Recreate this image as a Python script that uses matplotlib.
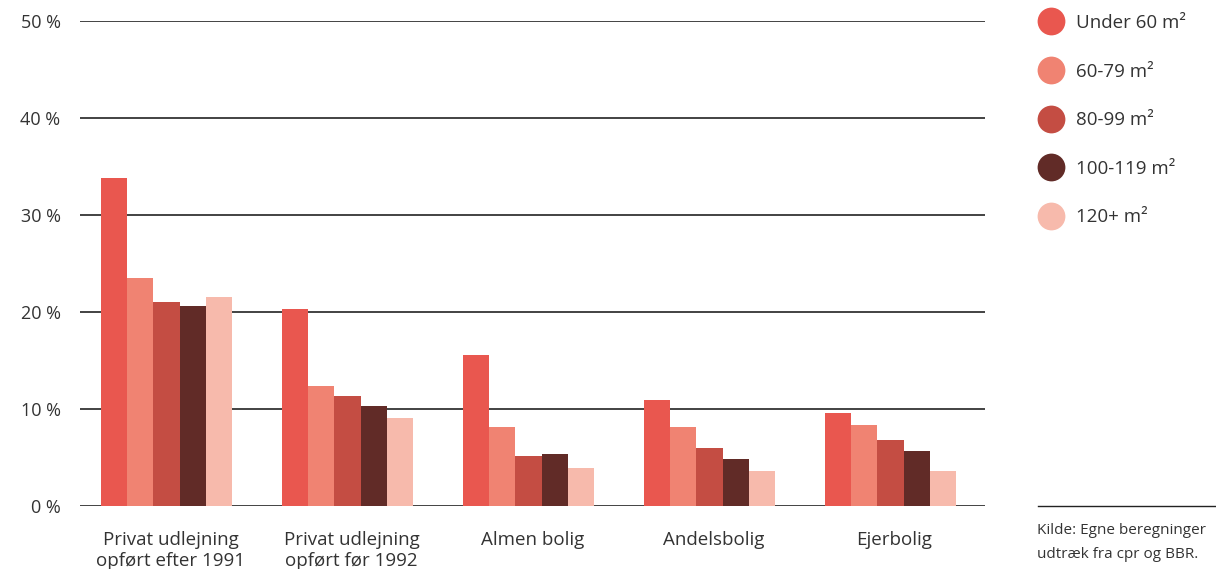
import matplotlib.pyplot as plt
import numpy as np
from matplotlib.lines import Line2D

plt.rcParams['font.family'] = ['Open Sans', 'DejaVu Sans']

# data (andel i procent)
kategorier = ['Privat udlejning\nopført efter 1991', 'Privat udlejning\nopført før 1992',
              'Almen bolig', 'Andelsbolig', 'Ejerbolig']
serier = ['Under 60 m²', '60-79 m²', '80-99 m²', '100-119 m²', '120+ m²']
under60 = [33.8, 20.3, 15.6, 10.9, 9.6]
m60_79 = [23.5, 12.4, 8.1, 8.1, 8.3]
m80_99 = [21.0, 11.3, 5.2, 6.0, 6.8]
m100_119 = [20.6, 10.3, 5.4, 4.8, 5.7]
m120 = [21.5, 9.1, 3.9, 3.6, 3.6]
yticks = [0, 10, 20, 30, 40, 50]

farver = ['#E9574F', '#F08372', '#C44D43', '#612B27', '#F7BAAC']
tekstfarve = '#333333'

fig = plt.figure(figsize=(12.16, 5.69), dpi=100)
ax = fig.add_axes([80/1216, 63/569, 905/1216, 485/569])

x = np.arange(len(kategorier))
b = 0.145
for i, (vals, c) in enumerate(zip([under60, m60_79, m80_99, m100_119, m120], farver)):
    ax.bar(x + (i - 2) * b - 0.022, vals, width=b, color=c, zorder=3, linewidth=0)

ax.set_xlim(-0.5, 4.5)
ax.set_ylim(0, 50)
ax.set_yticks(yticks)
ax.set_yticklabels([f'{t} %' for t in yticks])
ax.set_xticks(x)
ax.set_xticklabels(kategorier, linespacing=1.25)
ax.tick_params(axis='y', length=0, pad=14, labelsize=13, labelcolor=tekstfarve)
ax.tick_params(axis='x', length=0, pad=18, labelsize=13.5, labelcolor=tekstfarve)
ax.yaxis.grid(True, color='#222222', linewidth=1.2, zorder=0)
ax.set_axisbelow(True)
for s in ax.spines.values():
    s.set_visible(False)

handles = [Line2D([], [], marker='o', ls='', markersize=20, color=c, markeredgewidth=0) for c in farver]
leg = fig.legend(handles, serier, loc='upper left', bbox_to_anchor=(1042/1216, 1 - 14/569),
                 frameon=False, fontsize=13.5, labelspacing=1.63, handletextpad=0.8,
                 handlelength=1.0, borderaxespad=0, borderpad=0)
for t in leg.get_texts():
    t.set_color(tekstfarve)

# kilde
fig.add_artist(Line2D([1038/1216, 1.0], [63/569, 63/569], color='#222222', linewidth=1.0))
fig.text(1037/1216, 39/569, 'Kilde: Egne beregninger', fontsize=11,
         color=tekstfarve, va='center')
fig.text(1037/1216, 14/569, 'udtræk fra cpr og BBR.', fontsize=11, color=tekstfarve, va='center')

fig.savefig('out.png', dpi=100)
